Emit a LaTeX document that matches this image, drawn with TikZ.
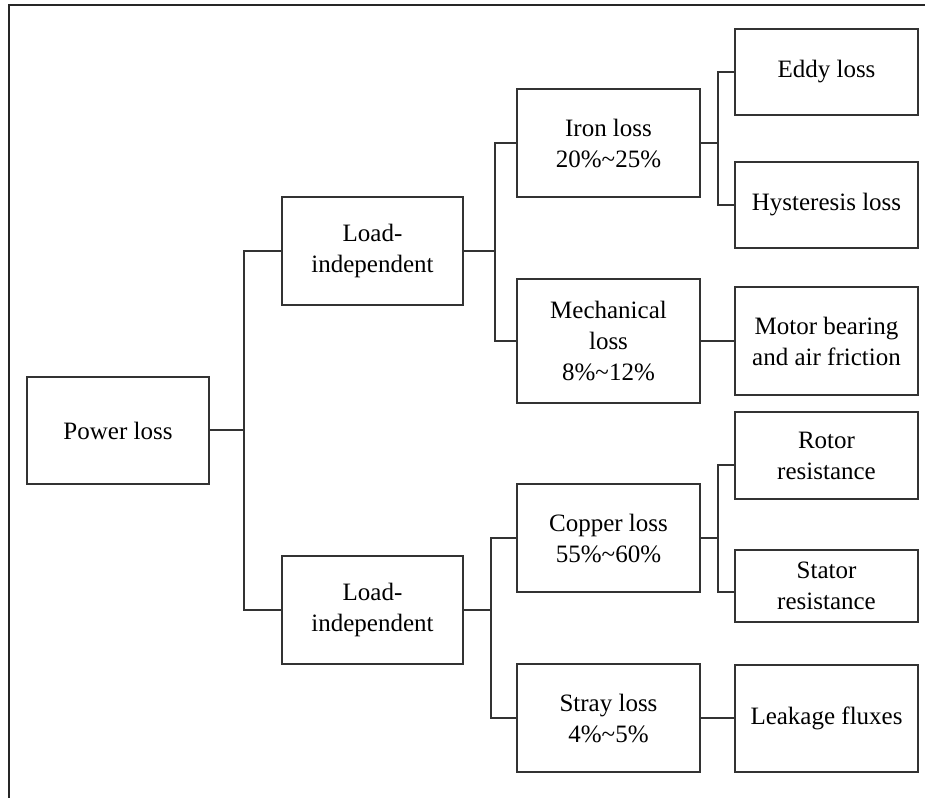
\documentclass[tikz,border=0pt]{standalone}
\usepackage{fontspec}
\setmainfont{Liberation Serif}
\begin{document}
\begin{tikzpicture}[x=0.75pt,y=-0.75pt,
  box/.style={draw=black!80, line width=1.5pt, fill=white, inner sep=0pt,
    align=center, minimum width=137pt,
    font=\fontsize{18.75pt}{23.25pt}\selectfont},
  link/.style={draw=black!80, line width=1.5pt},
  frame/.style={draw=black!85, line width=2pt}]
\useasboundingbox (0,0) rectangle (925,798);
% outer frame: top and left edges only
\draw[frame] (9,798) -- (9,5) -- (925,5);

% root
\node[box, minimum width=136.5pt, minimum height=80.25pt] (pw) at (118,430.5) {Power loss};

% first level
\node[box, minimum width=135.75pt, minimum height=81pt] (lit) at (372.5,251) {Load-\\independent};
\node[box, minimum width=135.75pt, minimum height=81pt] (lib) at (372.5,610) {Load-\\independent};

% second level
\node[box, minimum height=81pt] (iron) at (608.5,143) {Iron loss\\20\%\textasciitilde25\%};
\node[box, minimum height=93pt] (mech) at (608.5,341) {Mechanical\\loss\\8\%\textasciitilde12\%};
\node[box, minimum height=81pt] (copper) at (608.5,538) {Copper loss\\55\%\textasciitilde60\%};
\node[box, minimum height=81pt] (stray) at (608.5,718) {Stray loss\\4\%\textasciitilde5\%};

% third level
\node[box, minimum height=64.5pt] (eddy) at (826.5,72) {Eddy loss};
\node[box, minimum height=64.5pt] (hyst) at (826.5,205) {Hysteresis loss};
\node[box, minimum height=81pt] (motor) at (826.5,341) {Motor bearing\\and air friction};
\node[box, minimum height=65.25pt] (rotor) at (826.5,455.5) {Rotor\\resistance};
\node[box, minimum height=54pt] (stator) at (826.5,586) {Stator\\resistance};
\node[box, minimum height=80.25pt] (leak) at (826.5,718) {Leakage fluxes};

% connectors
\draw[link] (pw.east) -- ++(34,0) coordinate (j1);
\draw[link] (j1) |- (lit.west);
\draw[link] (j1) |- (lib.west);

\draw[link] (lit.east) -- ++(31,0) coordinate (j2);
\draw[link] (j2) |- (iron.west);
\draw[link] (j2) |- (mech.west);

\draw[link] (lib.east) -- ++(27,0) coordinate (j3);
\draw[link] (j3) |- (copper.west);
\draw[link] (j3) |- (stray.west);

\draw[link] (iron.east) -- ++(17,0) coordinate (j4);
\draw[link] (j4) |- (eddy.west);
\draw[link] (j4) |- (hyst.west);

\draw[link] (mech.east) -- (motor.west);

\draw[link] (copper.east) -- ++(17,0) coordinate (j5);
\draw[link] (j5) |- ([yshift=-7.5pt]rotor.west);
\draw[link] (j5) |- ([yshift=-4.5pt]stator.west);

\draw[link] (stray.east) -- (leak.west);
\end{tikzpicture}
\end{document}
